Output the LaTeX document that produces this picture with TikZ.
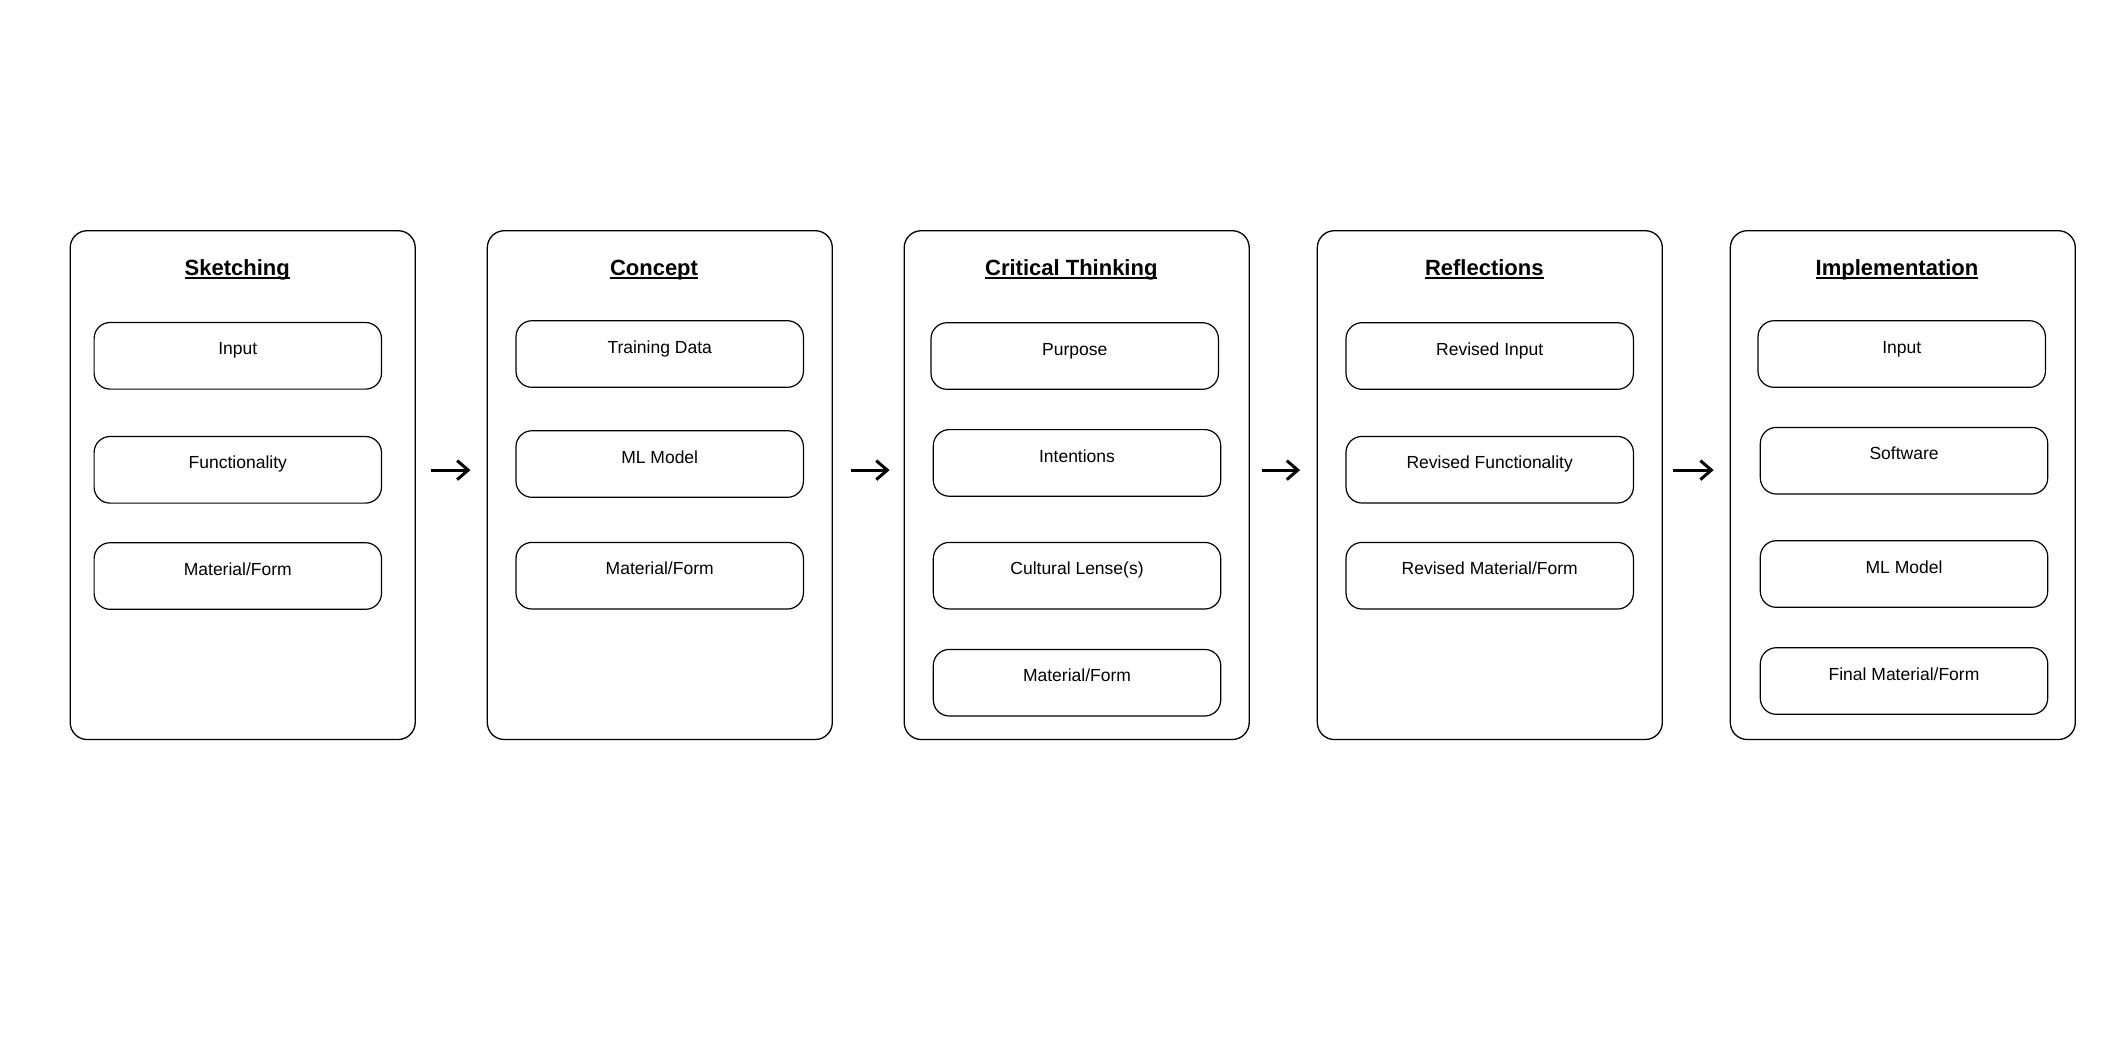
\documentclass[tikz,border=0pt]{standalone}
\usepackage{fontspec}
\setmainfont{Liberation Sans}
\usetikzlibrary{arrows.meta, positioning}

\newcommand\headline[1]{\setbox0=\hbox{#1}\rlap{\rule[-1.7pt]{\wd0}{1.1pt}}\box0}

\begin{document}
\begin{tikzpicture}[x=0.5pt, y=-0.5pt,
    stagebox/.style={draw, rounded corners=8.5pt, line width=0.65pt, minimum width=172.5pt, minimum height=254.4pt, inner sep=0pt},
    heading/.style={anchor=base, font=\fontsize{11}{13}\selectfont\bfseries},
    itembox/.style={draw, rounded corners=8pt, line width=0.6pt, minimum width=143.7pt, text height=16.2pt, text depth=17.1pt, inner sep=0pt, font=\fontsize{8.75}{10}\selectfont},
    flow/.style={-{Straight Barb[length=5.5pt, width=9.5pt]}, line width=1.5pt}]
            \useasboundingbox (0,0) rectangle (2128,1057);

            \node (sketch) at (242.7,485.1) [stagebox] {};
            \node (concept) at (659.8,485.1) [stagebox] {};
            \node (critical) at (1076.7,485.1) [stagebox] {};
            \node (reflect) at (1489.8,485.1) [stagebox] {};
            \node (implement) at (1902.8,485.1) [stagebox] {};

            \node (sketchT) at (237.2,275.7) [heading] {\headline{Sketching}};
            \node (conceptT) at (654,275.7) [heading] {\headline{Concept}};
            \node (criticalT) at (1071.3,275.7) [heading] {\headline{Critical Thinking}};
            \node (reflectT) at (1484.3,275.7) [heading] {\headline{Reflections}};
            \node (implementT) at (1897,275.7) [heading] {\headline{Implementation}};

            \node (sk1) at (237.8,355.8) [itembox] {Input};
            \node (sk2) at (237.8,469.8) [itembox] {Functionality};
            \node (sk3) at (237.8,576) [itembox] {Material/Form};

            \node (co1) at (659.7,354) [itembox] {Training Data};
            \node (co2) at (659.7,464) [itembox] {ML Model};
            \node (co3) at (659.7,575.7) [itembox] {Material/Form};

            \node (cr1) at (1074.7,356) [itembox] {Purpose};
            \node (cr2) at (1077,462.9) [itembox] {Intentions};
            \node (cr3) at (1077,575.7) [itembox] {Cultural Lense(s)};
            \node (cr4) at (1077,682.7) [itembox] {Material/Form};

            \node (re1) at (1489.7,356) [itembox] {Revised Input};
            \node (re2) at (1489.7,469.7) [itembox] {Revised Functionality};
            \node (re3) at (1489.7,575.7) [itembox] {Revised Material/Form};

            \node (im1) at (1901.7,354) [itembox] {Input};
            \node (im2) at (1904,460.7) [itembox] {Software};
            \node (im3) at (1904,574) [itembox] {ML Model};
            \node (im4) at (1904,681) [itembox] {Final Material/Form};

            \draw[flow, shorten <=7.4pt, shorten >=8.1pt] ([yshift=7.5pt]sketch.east) -- ([yshift=7.5pt]concept.west);
            \draw[flow, shorten <=8.9pt, shorten >=7pt] ([yshift=7.5pt]concept.east) -- ([yshift=7.5pt]critical.west);
            \draw[flow, shorten <=5.9pt, shorten >=8.3pt] ([yshift=7.5pt]critical.east) -- ([yshift=7.5pt]reflect.west);
            \draw[flow, shorten <=5.2pt, shorten >=8pt] ([yshift=7.5pt]reflect.east) -- ([yshift=7.5pt]implement.west);
        \end{tikzpicture}
\end{document}
